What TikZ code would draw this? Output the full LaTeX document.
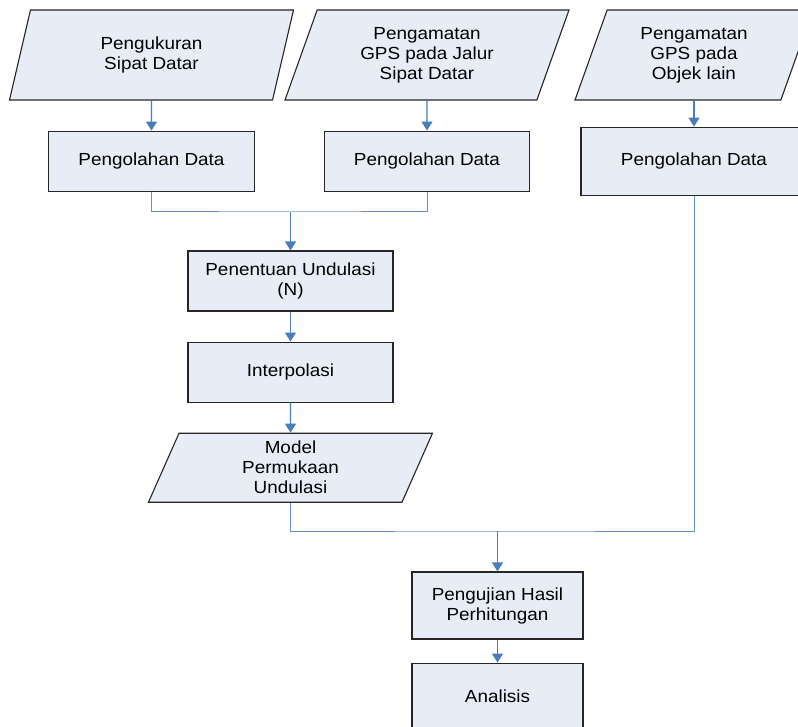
\documentclass[tikz,border=0pt]{standalone}
\usepackage{fontspec}
\setmainfont{Liberation Sans}[FakeStretch=1.08]
\usetikzlibrary{positioning,shapes.geometric,arrows.meta}
\definecolor{isian}{HTML}{E7ECF6}
\definecolor{biru}{HTML}{4A7EBB}

\begin{document}
\begin{tikzpicture}[
        x=1pt, y=-1pt, % 1 px = 1 pt, sumbu y ke bawah
        font=\fontsize{17.5}{20}\selectfont,
        proses/.style = {rectangle, draw=black!85, fill=isian, line width=1.1pt, align=center, inner sep=0pt, minimum height=60pt},
        dataio/.style = {trapezium, trapezium left angle=60, trapezium right angle=120, trapezium stretches body,
                draw=black!85, fill=isian, line width=1.1pt, align=center, inner sep=0pt, minimum height=90pt}, % jajaran genjang
        panah/.style = {draw=biru, line width=1.2pt, -{Triangle[width=11pt,length=9pt]}},
        garis/.style = {draw=biru!85, line width=1pt},
    ]
    \useasboundingbox (0,0) rectangle (798,727);

    % baris atas
    \node[dataio, minimum width=284pt] (ukur) at (151.5,55) {Pengukuran\\Sipat Datar};
    \node[dataio, minimum width=284pt] (gpsjalur) at (427,55) {Pengamatan\\GPS pada Jalur\\Sipat Datar};
    \node[dataio, minimum width=238pt] (gpslain) at (694,55) {Pengamatan\\GPS pada\\Objek lain};

    \node[proses, minimum width=206pt, below=30pt of ukur] (olah1) {Pengolahan Data};
    \node[proses, minimum width=205pt, below=30pt of gpsjalur] (olah2) {Pengolahan Data};
    \node[proses, minimum width=226pt, minimum height=68pt, below=26pt of gpslain] (olah3) {Pengolahan Data};

    % kolom tengah
    \node[proses, minimum width=205pt] (undulasi) at (290.5,281) {Penentuan Undulasi\\(N)};
    \node[proses, minimum width=205pt, below=30pt of undulasi] (interp) {Interpolasi};
    \node[dataio, minimum width=284pt, minimum height=69pt, below=30pt of interp] (model) {Model\\Permukaan\\Undulasi};

    % bawah
    \node[proses, minimum width=171pt, minimum height=67pt] (uji) at (497.5,605.5) {Pengujian Hasil\\Perhitungan};
    \node[proses, minimum width=171pt, minimum height=67pt, below=23pt of uji] (analisis) {Analisis};

    \coordinate (gabung1) at (undulasi.north |- 0,212);
    \coordinate (gabung2) at (uji.north |- 0,531);

    \draw[panah] (ukur) -- (olah1);
    \draw[panah] (gpsjalur) -- (olah2);
    \draw[panah] (gpslain.south) -- (olah3.north);
    \draw[garis] (olah1.south) |- (gabung1) -| (olah2.south);
    \draw[panah] (gabung1) -- (undulasi);
    \draw[panah] (undulasi) -- (interp);
    \draw[panah] (interp) -- (model);
    \draw[garis] (model.south) |- (gabung2) -| (olah3.south);
    \draw[panah] (gabung2) -- (uji);
    \draw[panah] (uji) -- (analisis);
\end{tikzpicture}
\end{document}
